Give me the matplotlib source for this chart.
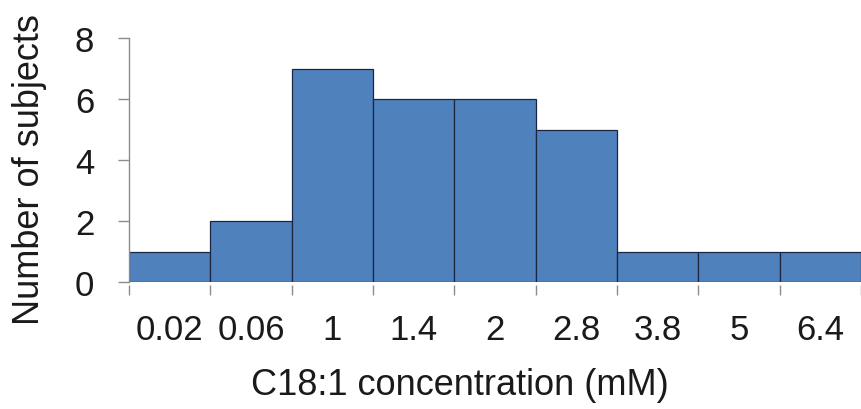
import matplotlib
matplotlib.use("Agg")
import matplotlib.pyplot as plt
import numpy as np

labels = ["0.02", "0.06", "1", "1.4", "2", "2.8", "3.8", "5", "6.4"]
counts = [1, 2, 7, 6, 6, 5, 1, 1, 1]
yticks = [0, 2, 4, 6, 8]

plt.rcParams['font.family'] = ['Liberation Sans', 'DejaVu Sans']

fig = plt.figure(figsize=(8.61, 4.10), dpi=100)
ax = fig.add_axes([129/861, 127/410, 1 - 129/861, (283-39)/410])

x = np.arange(len(counts))
ax.bar(x + 0.5, counts, width=1.0, color="#4F81BD", edgecolor="#1B2740", linewidth=0.9)

ax.set_xlim(0, len(counts))
ax.set_ylim(0, 8)
ax.set_yticks(yticks)
ax.set_yticklabels([str(v) for v in yticks])

ax.set_xticks(x + 0.5)
ax.set_xticklabels(labels)
ax.set_xticks(np.arange(len(counts) + 1), minor=True)

for s in ["top", "right"]:
    ax.spines[s].set_visible(False)
ax.spines["bottom"].set_visible(False)
ax.spines["bottom"].set_position(("outward", 2))
ax.spines["left"].set_color("#8c8c8c")
ax.spines["left"].set_linewidth(1.0)

ax.tick_params(axis="x", which="major", length=0, pad=20, labelsize=25, labelcolor="#1a1a1a")
ax.tick_params(axis="x", which="minor", length=7.5, color="#8c8c8c", width=1.0, direction="out")
ax.tick_params(axis="y", length=8, color="#8c8c8c", width=1.0, pad=17, direction="out",
               labelsize=25, labelcolor="#1a1a1a")

ax.set_xlabel("C18:1 concentration (mM)", fontsize=26, color="#1a1a1a")
ax.set_ylabel("Number of subjects", fontsize=26, color="#1a1a1a")
ax.xaxis.set_label_coords((460 - 129) / (861 - 129), -(386 - 283) / 244)
ax.yaxis.set_label_coords(-(129 - 30) / (861 - 129), (283 - 170) / 244)
ax.xaxis.label.set_va("center")
ax.yaxis.label.set_va("center")

fig.savefig("out.png", dpi=100)
